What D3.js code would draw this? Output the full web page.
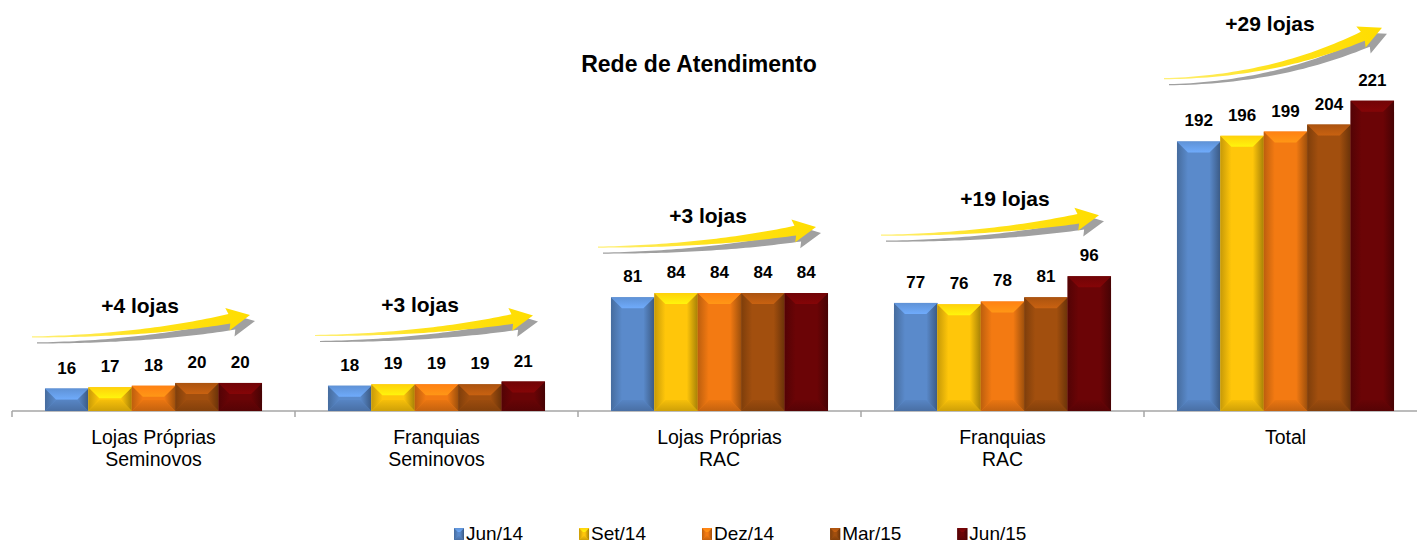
<!DOCTYPE html>
<html>
<head>
<meta charset="utf-8">
<script src="https://cdn.jsdelivr.net/npm/d3@7"></script>
<style>
  body { margin: 0; background: #fff; }
  svg { display: block; font-family: "Liberation Sans", Arial, sans-serif; }
</style>
</head>
<body>
<script>

/*
	Data
 */

var categoryLines = [
	["Lojas Próprias", "Seminovos"],
	["Franquias", "Seminovos"],
	["Lojas Próprias", "RAC"],
	["Franquias", "RAC"],
	["Total"]
];

var periods = ["Jun/14", "Set/14", "Dez/14", "Mar/15", "Jun/15"];

var jun14 = [16, 18, 81, 77, 192];
var set14 = [17, 19, 84, 76, 196];
var dez14 = [18, 19, 84, 78, 199];
var mar15 = [20, 19, 84, 81, 204];
var jun15 = [20, 21, 84, 96, 221];

var growthLabels = ["+4 lojas", "+3 lojas", "+3 lojas", "+19 lojas", "+29 lojas"];

var series = [jun14, set14, dez14, mar15, jun15];

/*
	Styles / annotation layout
 */

var colors = ["#5A8ACB", "#FFC60A", "#F37A12", "#A24F0E", "#6B0406"];

// arrow tail / tip lift above the tallest bar of each group, and label x offset
var tailLift = [46, 46, 46, 41, 22];
var tipLift = [68, 66, 66, 61, 73];
var labelDx = [128, 125, 130, 144, 126];

var container = { width: 1417, height: 545 };
var axisY = 411;

var svg = d3.select("body").append("svg")
	.attr("width", container.width)
	.attr("height", container.height);

var defs = svg.append("defs");

/*
	Bevel gradients per colour
 */

colors.forEach(function (c, i) {
	var base = d3.color(c);
	function grad(id, x2, y2, stops) {
		var g = defs.append("linearGradient").attr("id", id)
			.attr("x1", 0).attr("y1", 0).attr("x2", x2).attr("y2", y2);
		stops.forEach(function (s) {
			g.append("stop").attr("offset", s[0]).attr("stop-color", s[1]);
		});
	}
	grad("top" + i, 0, 1, [[0, base.brighter(0.15).formatHex()], [1, base.brighter(0.6).formatHex()]]);
	grad("left" + i, 1, 0, [[0, base.darker(0.7).formatHex()], [1, base.formatHex()]]);
	grad("right" + i, 1, 0, [[0, base.formatHex()], [1, base.darker(1.2).formatHex()]]);
	grad("bottom" + i, 0, 1, [[0, base.darker(0.1).formatHex()], [1, base.darker(0.6).formatHex()]]);
});

var arrowGrad = defs.append("linearGradient").attr("id", "arrowFill")
	.attr("x1", 0).attr("y1", 0).attr("x2", 1).attr("y2", 0);
arrowGrad.append("stop").attr("offset", 0).attr("stop-color", "#FFF07A");
arrowGrad.append("stop").attr("offset", 0.5).attr("stop-color", "#FFE21A");
arrowGrad.append("stop").attr("offset", 1).attr("stop-color", "#FFDD00");

/*
	Scales
 */

var x0 = d3.scaleBand()
	.domain(d3.range(categoryLines.length))
	.range([12, 1427])
	.paddingInner(0.233)
	.paddingOuter(0.1165);

var x1 = d3.scaleBand()
	.domain(d3.range(periods.length))
	.range([0, x0.bandwidth()]);

var y = d3.scaleLinear()
	.domain([0, 250])
	.range([axisY, axisY - 351]);

var step = x0.step();

/*
	Bevelled bar
 */

function bevelBar(g, x, yTop, w, h, ci, b) {
	var t = Math.min(b, h / 2, w / 2);
	var pts = function (arr) { return arr.map(function (p) { return p.join(","); }).join(" "); };
	g.append("rect").attr("x", x).attr("y", yTop).attr("width", w).attr("height", h).attr("fill", colors[ci]);
	g.append("polygon").attr("points", pts([[x, yTop + h], [x + w, yTop + h], [x + w - t, yTop + h - t], [x + t, yTop + h - t]]))
		.attr("fill", "url(#bottom" + ci + ")");
	g.append("polygon").attr("points", pts([[x, yTop], [x + t, yTop + t], [x + t, yTop + h - t], [x, yTop + h]]))
		.attr("fill", "url(#left" + ci + ")");
	g.append("polygon").attr("points", pts([[x + w, yTop], [x + w - t, yTop + t], [x + w - t, yTop + h - t], [x + w, yTop + h]]))
		.attr("fill", "url(#right" + ci + ")");
	g.append("polygon").attr("points", pts([[x, yTop], [x + w, yTop], [x + w - t, yTop + t], [x + t, yTop + t]]))
		.attr("fill", "url(#top" + ci + ")");
}

/*
	Curved tapering arrow
 */

function arrowPath(tx, ty, hx, hy) {
	var headLen = 21, headHalf = 11.5;
	var cdx = hx - tx, cdy = hy - ty;
	var u = [cdx, cdy * 2.1];
	var ul = Math.hypot(u[0], u[1]); u = [u[0] / ul, u[1] / ul];
	var p2 = [hx - headLen * u[0], hy - headLen * u[1]];
	var p1 = [tx + 0.55 * (p2[0] - tx), ty + 0.05 * (p2[1] - ty)];
	u = [p2[0] - p1[0], p2[1] - p1[1]];
	ul = Math.hypot(u[0], u[1]); u = [u[0] / ul, u[1] / ul];
	p2 = [hx - headLen * u[0], hy - headLen * u[1]];

	var upper = [], lower = [], n = 40;
	for (var i = 0; i <= n; i++) {
		var s = i / n, m = 1 - s;
		var bx = m * m * tx + 2 * m * s * p1[0] + s * s * p2[0];
		var by = m * m * ty + 2 * m * s * p1[1] + s * s * p2[1];
		var dx = 2 * m * (p1[0] - tx) + 2 * s * (p2[0] - p1[0]);
		var dy = 2 * m * (p1[1] - ty) + 2 * s * (p2[1] - p1[1]);
		var dl = Math.hypot(dx, dy);
		var nx = dy / dl, ny = -dx / dl;
		var w = (1.2 + 8.5 * Math.pow(s, 1.4)) / 2;
		upper.push([bx + nx * w, by + ny * w]);
		lower.push([bx - nx * w, by - ny * w]);
	}
	var nx2 = u[1], ny2 = -u[0];
	var pts = upper.concat([
		[p2[0] + nx2 * headHalf - u[0] * 2, p2[1] + ny2 * headHalf - u[1] * 2],
		[hx, hy],
		[p2[0] - nx2 * headHalf - u[0] * 2, p2[1] - ny2 * headHalf - u[1] * 2]
	]).concat(lower.reverse());
	return "M" + pts.map(function (p) { return p[0].toFixed(2) + "," + p[1].toFixed(2); }).join("L") + "Z";
}

/*
	Title
 */

svg.append("text")
	.attr("x", 699).attr("y", 72)
	.attr("text-anchor", "middle")
	.attr("font-size", 23).attr("font-weight", "bold")
	.text("Rede de Atendimento");

/*
	Axis
 */

var axis = svg.append("g");
axis.append("line")
	.attr("x1", 12).attr("x2", container.width)
	.attr("y1", axisY).attr("y2", axisY)
	.attr("stroke", "#A6A6A6").attr("stroke-width", 1.5);

axis.selectAll(".tick")
	.data(d3.range(categoryLines.length + 1))
	.enter().append("line")
	.attr("x1", function (i) { return 12 + i * step; })
	.attr("x2", function (i) { return 12 + i * step; })
	.attr("y1", axisY).attr("y2", axisY + 6)
	.attr("stroke", "#A6A6A6").attr("stroke-width", 1.5);

var catLabel = axis.selectAll(".cat")
	.data(categoryLines)
	.enter().append("text")
	.attr("text-anchor", "middle")
	.attr("font-size", 19.5)
	.attr("fill", "#000");

catLabel.selectAll("tspan")
	.data(function (d, i) { return d.map(function (l) { return { l: l, i: i }; }); })
	.enter().append("tspan")
	.attr("x", function (d) { return x0(d.i) + x0.bandwidth() / 2; })
	.attr("y", function (d, j) { return 444 + j * 22; })
	.text(function (d) { return d.l; });

/*
	Bars + value labels
 */

var groups = svg.selectAll(".grp")
	.data(categoryLines)
	.enter().append("g")
	.attr("transform", function (d, i) { return "translate(" + x0(i) + ",0)"; });

groups.each(function (d, ci) {
	var g = d3.select(this);
	series.forEach(function (s, si) {
		var v = s[ci];
		bevelBar(g, x1(si), y(v), x1.bandwidth(), axisY - y(v), si, 11);
		g.append("text")
			.attr("x", x1(si) + x1.bandwidth() / 2)
			.attr("y", y(v) - 15)
			.attr("text-anchor", "middle")
			.attr("font-size", 17).attr("font-weight", "bold")
			.text(v);
	});
});

/*
	Growth arrows
 */

growthLabels.forEach(function (label, ci) {
	var maxTop = y(d3.max(series, function (s) { return s[ci]; }));
	var bx = 12 + ci * step;
	var p = arrowPath(bx + 20, maxTop - tailLift[ci], bx + 238, maxTop - tipLift[ci]);
	svg.append("path").attr("d", p).attr("fill", "#A0A0A0")
		.attr("transform", "translate(5,6)");
	svg.append("path").attr("d", p).attr("fill", "url(#arrowFill)");
	svg.append("text")
		.attr("x", bx + labelDx[ci])
		.attr("y", maxTop - 70)
		.attr("text-anchor", "middle")
		.attr("font-size", 21).attr("font-weight", "bold")
		.text(label);
});

/*
	Legend
 */

var legend = svg.append("g");
var lx = 454;
periods.forEach(function (p, i) {
	bevelBar(legend, lx, 528, 10, 12, i, 4);
	var t = legend.append("text")
		.attr("x", lx + 12).attr("y", 540)
		.attr("font-size", 19)
		.text(p);
	lx += 12 + t.node().getComputedTextLength() + 56;
});

</script>
</body>
</html>
